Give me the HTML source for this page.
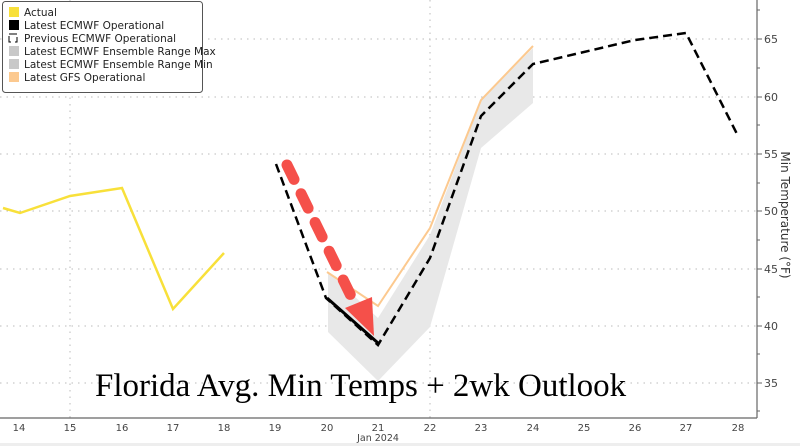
<!DOCTYPE html><html><head><style>body{margin:0;background:#fff}svg{display:block}</style></head><body>
<svg width="800" height="446" xmlns="http://www.w3.org/2000/svg" font-family="'DejaVu Sans','Liberation Sans',sans-serif">
<rect width="800" height="446" fill="#fff"/>
<g stroke="#bbb" stroke-dasharray="1.5,5" stroke-width="1">
<line x1="0" x2="757" y1="39" y2="39"/><line x1="0" x2="757" y1="97" y2="97"/><line x1="0" x2="757" y1="154" y2="154"/><line x1="0" x2="757" y1="211" y2="211"/><line x1="0" x2="757" y1="269" y2="269"/><line x1="0" x2="757" y1="326" y2="326"/><line x1="0" x2="757" y1="383" y2="383"/>
<line x1="70" x2="70" y1="0" y2="418"/><line x1="430" x2="430" y1="0" y2="418"/>
</g>
<polygon points="328,272 378,318 430,235 481,100 533,48 533,103 481,148 430,327 378,381 328,332" fill="#e8e8e8"/>
<polyline points="327,272 378,306 430,228 481,100 533,46" fill="none" stroke="#fcc98f" stroke-width="2"/>
<polyline points="3,208 20,213 70,196 122,188 173,309 224,253" fill="none" stroke="#f8e03a" stroke-width="2.5"/>
<line x1="327" y1="298" x2="378" y2="343" stroke="#000" stroke-width="3"/>
<polyline points="276,164 326,298 378,345 430,258 481,116 533,64 635,40 686,33 738,136" fill="none" stroke="#000" stroke-width="2.5" stroke-dasharray="9,5"/>
<line x1="287" y1="165" x2="352" y2="298" stroke="#f5504a" stroke-width="11" stroke-linecap="round" stroke-dasharray="16,16"/>
<polygon points="345,308 372,297 374,336" fill="#f5504a"/>
<g stroke="#666" stroke-width="1.2"><line x1="0" x2="757" y1="418" y2="418"/><line x1="757" x2="757" y1="0" y2="418"/></g>
<g stroke="#666"><line x1="757" x2="762" y1="39" y2="39"/><line x1="757" x2="762" y1="97" y2="97"/><line x1="757" x2="762" y1="154" y2="154"/><line x1="757" x2="762" y1="211" y2="211"/><line x1="757" x2="762" y1="269" y2="269"/><line x1="757" x2="762" y1="326" y2="326"/><line x1="757" x2="762" y1="383" y2="383"/>
<line x1="757" x2="760" y1="10" y2="10"/><line x1="757" x2="760" y1="68" y2="68"/><line x1="757" x2="760" y1="125" y2="125"/><line x1="757" x2="760" y1="183" y2="183"/><line x1="757" x2="760" y1="240" y2="240"/><line x1="757" x2="760" y1="297" y2="297"/><line x1="757" x2="760" y1="354" y2="354"/><line x1="757" x2="760" y1="411" y2="411"/></g>
<g font-size="11" fill="#444"><text x="764" y="43">65</text><text x="764" y="101">60</text><text x="764" y="158">55</text><text x="764" y="215">50</text><text x="764" y="273">45</text><text x="764" y="330">40</text><text x="764" y="387">35</text></g>
<text transform="translate(781,215) rotate(90)" text-anchor="middle" font-size="12" fill="#333">Min Temperature (°F)</text>
<g font-size="10" fill="#444" text-anchor="middle">
<text x="19" y="431">14</text><text x="70" y="431">15</text><text x="122" y="431">16</text><text x="173" y="431">17</text><text x="224" y="431">18</text><text x="275" y="431">19</text><text x="327" y="431">20</text><text x="378" y="431">21</text><text x="430" y="431">22</text><text x="481" y="431">23</text><text x="533" y="431">24</text><text x="584" y="431">25</text><text x="635" y="431">26</text><text x="686" y="431">27</text><text x="738" y="431">28</text>
<text x="378" y="441" font-size="9.5">Jan 2024</text></g>
<rect x="0" y="443" width="800" height="3" fill="#eee"/>
<text x="95" y="396" font-family="'Liberation Serif',serif" font-size="33" fill="#000">Florida Avg. Min Temps + 2wk Outlook</text>
<rect x="2.5" y="1.5" width="200" height="91" rx="3" fill="#fff" stroke="#555"/>
<g font-size="10.5" fill="#222">
<rect x="9" y="7" width="10" height="10" fill="#f8e03a"/><text x="24" y="16">Actual</text>
<rect x="9" y="20" width="10" height="10" fill="#000"/><text x="24" y="29">Latest ECMWF Operational</text>
<path d="M9,34 h8 M9,36 v6 h2 M17,37 v5 h-2" stroke="#000" fill="none"/><text x="24" y="42">Previous ECMWF Operational</text>
<rect x="9" y="46" width="10" height="10" fill="#c8c8c8"/><text x="24" y="55">Latest ECMWF Ensemble Range Max</text>
<rect x="9" y="59" width="10" height="10" fill="#c8c8c8"/><text x="24" y="68">Latest ECMWF Ensemble Range Min</text>
<rect x="9" y="72" width="10" height="10" fill="#fcc98f"/><text x="24" y="81">Latest GFS Operational</text>
</g>
</svg></body></html>
